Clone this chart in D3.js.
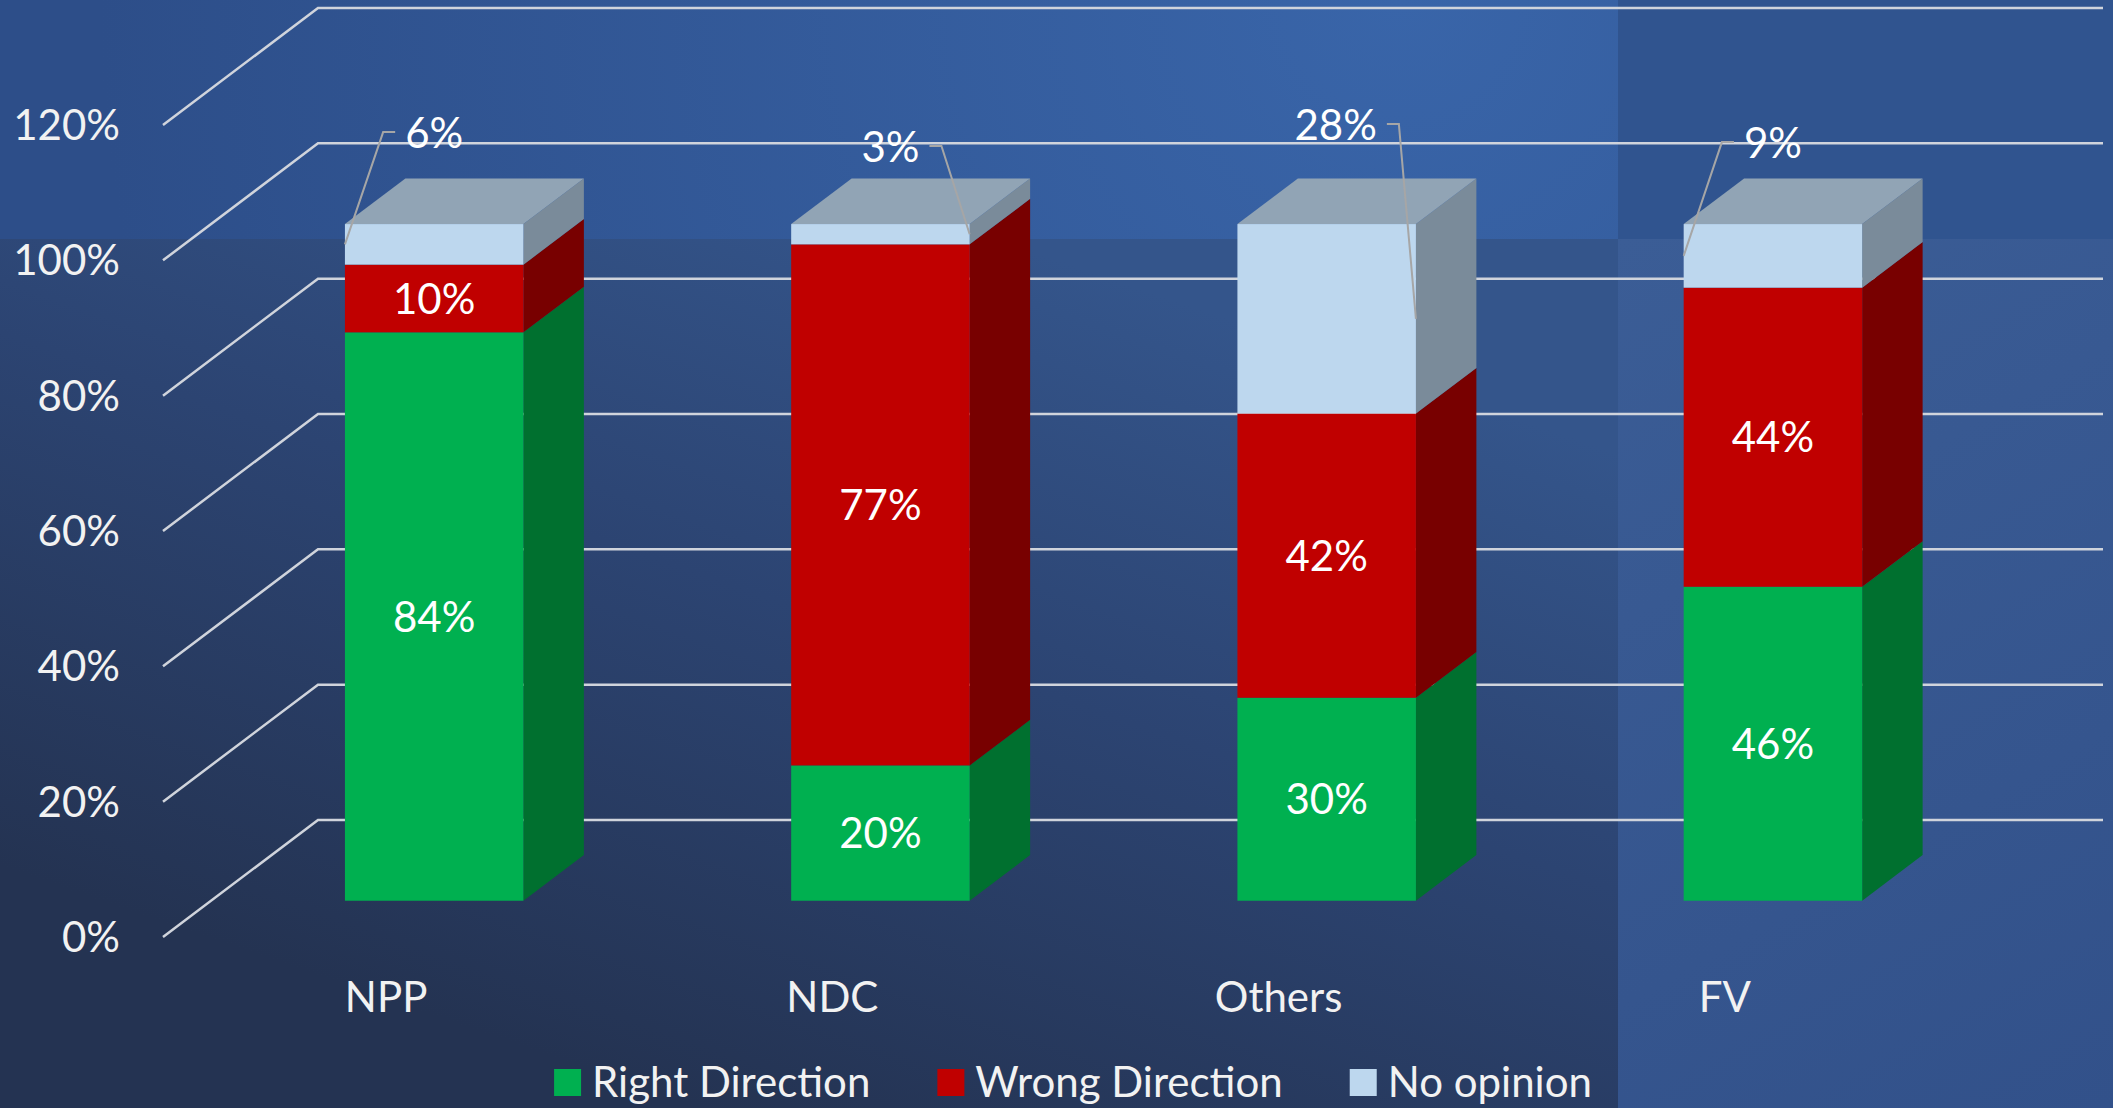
<!DOCTYPE html>
<html>
<head>
<meta charset="utf-8">
<script src="https://cdn.jsdelivr.net/npm/d3@7"></script>
<style>
body { margin: 0; background: #2a4270; }
svg { display: block; font-family: Lato, "Open Sans", sans-serif; }
</style>
</head>
<body>
<div id="chart"></div>
<script>
// data
var categories = ["NPP", "NDC", "Others", "FV"];
var seriesNames = ["Right Direction", "Wrong Direction", "No opinion"];
var rightDirection = [84, 20, 30, 46.4];
var wrongDirection = [10, 77, 42, 44.2];
var noOpinion = [6, 3, 28, 9.4];
var yTicks = [0, 20, 40, 60, 80, 100, 120];

// hand-placed callouts for the "No opinion" labels (offset from bar top centre)
var calloutDx = [0, 10, 9, 0];
var calloutDy = [-91, -77, -99, -81];
var calloutSide = ["left", "right", "right", "left"];

var width = 2113, height = 1108;
var depthX = 155, depthY = -117, zFront = 0.31, zBack = 0.70;
var fontSize = 42;
var fronts = ["#00b050", "#c00000", "#bdd7ee"];
var sides = ["#00702f", "#780000", "#7a8b9a"];
var tops = ["#2fc070", "#d23a3a", "#91a4b5"];

var svg = d3.select("#chart").append("svg")
    .attr("width", width).attr("height", height);
var defs = svg.append("defs");

function linGrad(id, x1, y1, x2, y2, stops) {
    var g = defs.append("linearGradient").attr("id", id)
        .attr("gradientUnits", "userSpaceOnUse")
        .attr("x1", x1).attr("y1", y1).attr("x2", x2).attr("y2", y2);
    stops.forEach(function (s) { g.append("stop").attr("offset", s[0]).attr("stop-color", s[1]); });
}
linGrad("bgLeft", 1000, 240, 700, 1108, [[0, "#34558b"], [0.45, "#2c4472"], [1, "#243352"]]);
linGrad("bgRight", 1618, 240, 2113, 1108, [[0, "#3b5d96"], [1, "#32518a"]]);
var rg = defs.append("radialGradient").attr("id", "bgTop")
    .attr("gradientUnits", "userSpaceOnUse")
    .attr("cx", 1400).attr("cy", 0).attr("r", 1300);
rg.append("stop").attr("offset", 0).attr("stop-color", "#3965a9");
rg.append("stop").attr("offset", 1).attr("stop-color", "#2d4e89");

var splitX = 1618, splitY = 239;
svg.append("rect").attr("width", splitX).attr("height", height).attr("fill", "url(#bgLeft)");
svg.append("rect").attr("width", splitX).attr("height", splitY).attr("fill", "url(#bgTop)");
svg.append("rect").attr("x", splitX).attr("width", width - splitX).attr("height", height).attr("fill", "url(#bgRight)");
svg.append("rect").attr("x", splitX).attr("width", width - splitX).attr("height", splitY).attr("fill", "#30548f");

var x = d3.scaleBand().domain(categories).range([163, 1948])
    .paddingInner(0.6).paddingOuter(0.3);
var y = d3.scaleLinear().domain([0, 120]).range([937, 125]);

function pt(px, v, z) { return [px + depthX * z, y(v) + depthY * z]; }

// gridlines: side wall diagonals + back wall
var x0 = x.range()[0], x1 = x.range()[1];
svg.append("g").selectAll("path").data(yTicks).enter().append("path")
    .attr("d", function (v) {
        return d3.line()([pt(x0, v, 0), pt(x0, v, 1), pt(x1, v, 1)]);
    })
    .attr("fill", "none").attr("stroke", "#d0d4dc").attr("stroke-width", 2.5);

svg.append("g").selectAll("text").data(yTicks).enter().append("text")
    .attr("x", x0 - 43).attr("y", function (v) { return y(v); })
    .attr("dy", "0.36em")
    .attr("text-anchor", "end")
    .attr("fill", "#f2f2f2").attr("font-size", fontSize)
    .text(function (v) { return v + "%"; });

svg.append("g").selectAll("text").data(categories).enter().append("text")
    .attr("x", function (c) { return x(c) + x.bandwidth() / 2; })
    .attr("y", 1012)
    .attr("text-anchor", "middle")
    .attr("fill", "#f2f2f2").attr("font-size", fontSize)
    .text(function (c) { return c; });

// stacked 3d bars
var table = categories.map(function (c, i) {
    return { cat: c, r: rightDirection[i], w: wrongDirection[i], n: noOpinion[i] };
});
var stack = d3.stack().keys(["r", "w", "n"])(table);
var bw = x.bandwidth();
var bars = svg.append("g");
var fmt = d3.format(".0f");

stack.forEach(function (layer, k) {
    layer.forEach(function (d) {
        var xl = x(d.data.cat), xr = xl + bw;
        var a = pt(xl, d[1], zFront), b = pt(xr, d[0], zFront);
        bars.append("path")
            .attr("d", d3.line()([pt(xr, d[0], zFront), pt(xr, d[1], zFront), pt(xr, d[1], zBack), pt(xr, d[0], zBack)]) + "Z")
            .attr("fill", sides[k]);
        bars.append("rect")
            .attr("x", a[0]).attr("y", a[1])
            .attr("width", b[0] - a[0]).attr("height", b[1] - a[1])
            .attr("fill", fronts[k]);
        if (k === stack.length - 1) {
            bars.append("path")
                .attr("d", d3.line()([pt(xl, d[1], zFront), pt(xr, d[1], zFront), pt(xr, d[1], zBack), pt(xl, d[1], zBack)]) + "Z")
                .attr("fill", tops[k]);
        }
    });
});

// labels inside segments
var labels = svg.append("g");
stack.slice(0, 2).forEach(function (layer) {
    layer.forEach(function (d) {
        var p = pt(x(d.data.cat) + bw / 2, (d[0] + d[1]) / 2, zFront);
        labels.append("text")
            .attr("x", p[0]).attr("y", p[1]).attr("dy", "0.36em")
            .attr("text-anchor", "middle")
            .attr("fill", "#ffffff").attr("font-size", fontSize)
            .text(fmt(d[1] - d[0]) + "%");
    });
});

// callouts for no opinion
stack[2].forEach(function (d, i) {
    var xl = x(d.data.cat), cx = xl + bw / 2;
    var topPt = pt(cx, d[1], zFront);
    var tx = topPt[0] + calloutDx[i], ty = topPt[1] + calloutDy[i];
    var t = labels.append("text")
        .attr("x", tx).attr("y", ty).attr("dy", "0.36em")
        .attr("text-anchor", "middle")
        .attr("fill", "#ffffff").attr("font-size", fontSize)
        .text(fmt(d[1] - d[0]) + "%");
    var tw = t.node().getComputedTextLength();
    var anchor, elbow, tick;
    if (calloutSide[i] === "left") {
        anchor = pt(xl, (d[0] + d[1]) / 2, zFront);
        elbow = [tx - tw / 2 - 22, ty - 1];
        tick = [tx - tw / 2 - 10, ty - 1];
    } else {
        anchor = pt(xl + bw, (d[0] + d[1]) / 2, zFront);
        elbow = [tx + tw / 2 + 22, ty - 1];
        tick = [tx + tw / 2 + 10, ty - 1];
    }
    labels.append("path")
        .attr("d", d3.line()([anchor, elbow, tick]))
        .attr("fill", "none").attr("stroke", "#a6a6a6").attr("stroke-width", 2);
});

// legend
var legend = svg.append("g");
var lx = 0;
seriesNames.forEach(function (name, k) {
    var g = legend.append("g").attr("transform", "translate(" + lx + ",0)");
    g.append("rect").attr("x", 0).attr("y", -28).attr("width", 27).attr("height", 27).attr("fill", fronts[k]);
    var t = g.append("text").attr("x", 38).attr("y", 0)
        .attr("fill", "#f2f2f2").attr("font-size", fontSize).text(name);
    lx += 38 + t.node().getComputedTextLength() + 67;
});
var legendWidth = lx - 67;
legend.attr("transform", "translate(" + (1073 - legendWidth / 2) + ",1097)");
</script>
</body>
</html>
